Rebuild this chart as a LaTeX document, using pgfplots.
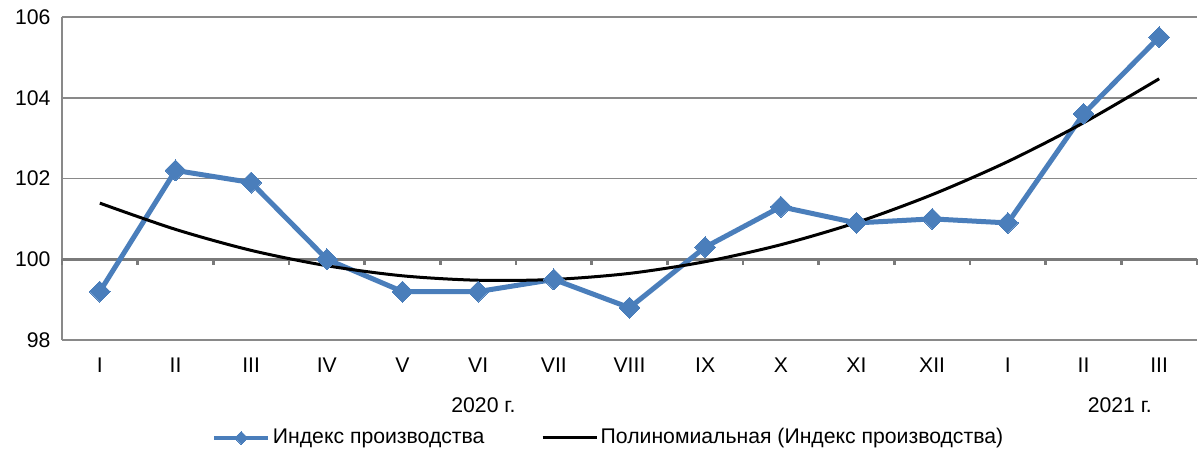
\documentclass[border=0pt]{standalone}
\usepackage{fontspec}
\setmainfont{Liberation Sans}
\usepackage{pgfplots}
\pgfplotsset{compat=1.18}
\definecolor{serblue}{HTML}{4A7EBB}
\definecolor{gridgray}{HTML}{898989}
\definecolor{axgray}{HTML}{7A7A7A}
\begin{document}
\fontsize{10.6pt}{13pt}\selectfont
\begin{tikzpicture}
\useasboundingbox (-31pt,-56pt) rectangle (569pt,170pt);
\begin{axis}[
  at={(0,0)}, anchor=south west,
  scale only axis, width=567.5pt, height=161.5pt,
  xmin=-0.5, xmax=14.5, ymin=98, ymax=106,
  xtick={0,...,14},
  xticklabels={I,II,III,IV,V,VI,VII,VIII,IX,X,XI,XII,I,II,III},
  ytick={98,100,...,106},
  axis y line*=left, axis x line*=bottom,
  x axis line style={draw=none},
  y axis line style={gridgray, line width=0.75pt},
  ymajorgrids, grid style={gridgray, line width=0.75pt},
  x tick style={draw=none}, major tick length=2.5pt,
  y tick style={gridgray, line width=0.75pt},
  ytick pos=left,
  tick label style={font=\fontsize{10.6pt}{13pt}\selectfont},
  /pgf/number format/assume math mode=true,
  xticklabel style={yshift=-5pt},
  yticklabel style={xshift=-2pt},
  clip=false,
  legend image code/.code={\draw[mark repeat=2,mark phase=2,#1] plot coordinates {(0pt,0pt) (13.5pt,0pt) (27pt,0pt)};},
  legend style={at={(0.482,-0.303)}, anchor=center, draw=none, fill=none,
    legend columns=2, font=\fontsize{10.6pt}{13pt}\selectfont,
    /tikz/every even column/.append style={column sep=27pt},
    inner sep=0pt, nodes={inner sep=1.3pt}},
  legend cell align=left,
]
\draw[axgray, line width=1.5pt] (axis cs:-0.5,100) -- (axis cs:14.5,100);
\pgfplotsinvokeforeach{-0.5,0.5,...,14.5}{
  \draw[axgray, line width=1.2pt] (axis cs:#1,100) -- ([yshift=-3pt]axis cs:#1,100);
}
\addlegendimage{serblue, line width=2pt, mark=square*, mark size=2.3pt,
  mark options={rotate=45, solid, fill=serblue, line width=0pt}}
\addlegendentry{Индекс производства}
\addlegendimage{black, line width=1.5pt}
\addlegendentry{Полиномиальная (Индекс производства)}
\addplot[serblue, line width=2.5pt, mark=square*, mark size=3.7pt,
  mark options={rotate=45, solid, fill=serblue, line width=0pt}, forget plot]
  coordinates {
  (0,99.2) (1,102.2) (2,101.9) (3,100.0) (4,99.2) (5,99.2) (6,99.5) (7,98.8)
  (8,100.3) (9,101.3) (10,100.9) (11,101.0) (12,100.9) (13,103.6) (14,105.5)
  };
\addplot[black, line width=1.5pt, smooth, forget plot] coordinates {
  (0,101.39) (1,100.74) (2,100.22) (3,99.84) (4,99.59) (5,99.48) (6,99.50)
  (7,99.65) (8,99.94) (9,100.36) (10,100.91) (11,101.60) (12,102.42)
  (13,103.38) (14,104.47)
  };
\node at ([yshift=-32.5pt]axis cs:5.07,98) {2020 г.};
\node at ([yshift=-32.5pt]axis cs:13.48,98) {2021 г.};
\end{axis}
\end{tikzpicture}
\end{document}
